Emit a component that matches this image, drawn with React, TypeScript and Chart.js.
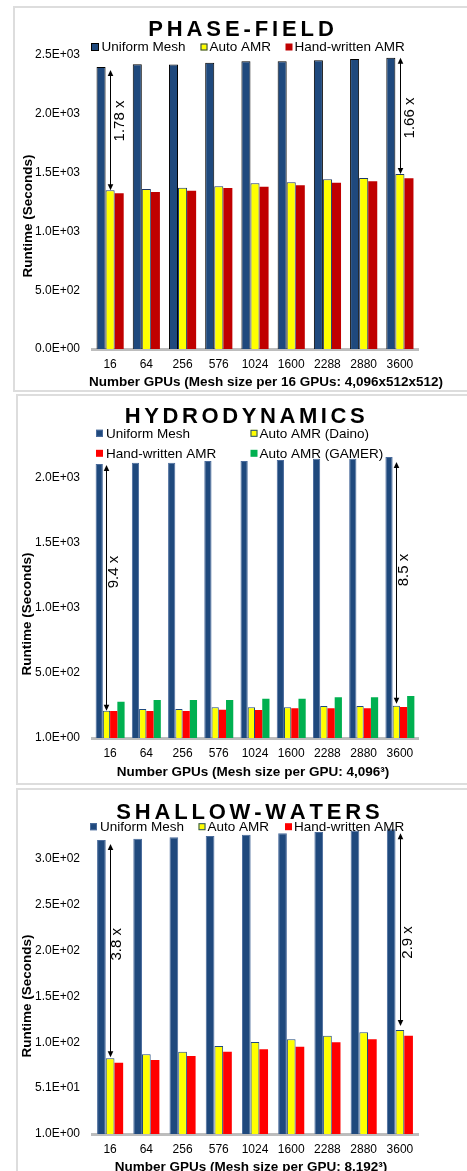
import React, { useEffect, useRef } from 'react';
import { Chart, registerables } from 'chart.js';

Chart.register(...registerables);

const FONT = "'Liberation Sans', Arial, Helvetica, sans-serif";

// ---------- data ----------
const gpuLabels = ['16', '64', '256', '576', '1024', '1600', '2288', '2880', '3600'];

const phaseUniform = [2398, 2421, 2419, 2435, 2447, 2447, 2455, 2466, 2477];
const phaseAuto = [1349, 1360, 1372, 1383, 1409, 1417, 1443, 1454, 1488];
const phaseHand = [1324, 1335, 1346, 1369, 1380, 1392, 1414, 1426, 1451];
const phaseTicks = [0, 500, 1000, 1500, 2000, 2500];

const hydroUniform = [2109, 2119, 2119, 2132, 2132, 2140, 2150, 2150, 2163];
const hydroDaino = [211, 224, 224, 237, 237, 237, 247, 247, 250];
const hydroHand = [209, 209, 209, 219, 216, 229, 229, 229, 239];
const hydroGamer = [280, 293, 293, 293, 303, 303, 314, 314, 324];
const hydroTicks = [1, 501, 1001, 1501, 2001];

const shallowUniform = [321.7, 323.0, 324.7, 326.0, 327.5, 329.0, 330.4, 331.9, 333.4];
const shallowAuto = [83.6, 88.0, 90.8, 97.0, 101.4, 104.3, 108.3, 111.9, 114.5];
const shallowHand = [78.8, 81.7, 86.1, 90.8, 93.4, 96.2, 101.0, 104.3, 108.2];
const shallowTicks = [1, 51, 101, 151, 201, 251, 301];

const phaseSpeedups = ['1.78 x', '1.66 x'];
const hydroSpeedups = ['9.4 x', '8.5 x'];
const shallowSpeedups = ['3.8 x', '2.9 x'];

// ---------- helpers ----------
function fmtExp(v: number): string {
  const s = v.toExponential(1);
  const [m, e] = s.split('e');
  const sign = e[0] === '-' ? '-' : '+';
  const digits = e.replace(/^[+-]/, '').padStart(2, '0');
  return `${m}E${sign}${digits}`;
}

type DS = { label: string; data: number[]; bg: string; border?: string; bw?: number };
type LegendPos = { x: number; y: number; textX: number; size: number };
type Ann = { index: number; text: string; labelValue: number; dx: number; topGap: number; botGap: number };

type PanelCfg = {
  top: number;
  height: number;
  title: string;
  titleX: number;
  titleY: number;
  titleSpacing: number;
  plotTop: number;
  plotBottom: number;
  yMin: number;
  yMax: number;
  yTicks: number[];
  catPct: number;
  datasets: DS[];
  legend: LegendPos[];
  xTitle: string;
  xTitleX: number;
  xTitleY: number;
  yTitleX: number;
  yTitleY: number;
  annotations: Ann[];
};

const W = 467;
const PLOT_LEFT = 92;
const PLOT_RIGHT = 418;

const panels: PanelCfg[] = [
  {
    top: 0,
    height: 393,
    title: 'PHASE-FIELD',
    titleX: 241,
    titleY: 36,
    titleSpacing: 3.9,
    plotTop: 55,
    plotBottom: 349,
    yMin: 0,
    yMax: 2500,
    yTicks: phaseTicks,
    catPct: 0.75,
    datasets: [
      { label: 'Uniform Mesh', data: phaseUniform, bg: '#1F497D', border: '#000000', bw: 1 },
      { label: 'Auto AMR', data: phaseAuto, bg: '#FFFF00', border: '#1F3864', bw: 1 },
      { label: 'Hand-written AMR', data: phaseHand, bg: '#C00000' },
    ],
    legend: [
      { x: 91, y: 47, textX: 101.5, size: 8 },
      { x: 200.5, y: 47, textX: 209.5, size: 7 },
      { x: 285.5, y: 47, textX: 294.5, size: 7 },
    ],
    xTitle: 'Number GPUs (Mesh size per 16 GPUs: 4,096x512x512)',
    xTitleX: 266,
    xTitleY: 382.5,
    yTitleX: 28,
    yTitleY: 216,
    annotations: [
      { index: 0, text: phaseSpeedups[0], labelValue: 1939, dx: 9.5, topGap: 3, botGap: 0 },
      { index: 8, text: phaseSpeedups[1], labelValue: 1964, dx: 10, topGap: 0, botGap: 0 },
    ],
  },
  {
    top: 393,
    height: 393,
    title: 'HYDRODYNAMICS',
    titleX: 244.7,
    titleY: 30.3,
    titleSpacing: 3.6,
    plotTop: 52.5,
    plotBottom: 345,
    yMin: 1,
    yMax: 2251,
    yTicks: hydroTicks,
    catPct: 0.8,
    datasets: [
      { label: 'Uniform Mesh', data: hydroUniform, bg: '#1F497D', border: '#4A6B9B', bw: 1 },
      { label: 'Auto AMR (Daino)', data: hydroDaino, bg: '#FFFF00', border: '#1F497D', bw: 1 },
      { label: 'Hand-written AMR', data: hydroHand, bg: '#FF0000' },
      { label: 'Auto AMR (GAMER)', data: hydroGamer, bg: '#00B050' },
    ],
    legend: [
      { x: 96, y: 40.3, textX: 106, size: 7 },
      { x: 250.5, y: 40.3, textX: 259.5, size: 7 },
      { x: 96, y: 60.3, textX: 106, size: 7 },
      { x: 250.5, y: 60.3, textX: 259.5, size: 7 },
    ],
    xTitle: 'Number GPUs (Mesh size per GPU: 4,096\u00B3)',
    xTitleX: 253,
    xTitleY: 379.5,
    yTitleX: 27,
    yTitleY: 221,
    annotations: [
      { index: 0, text: hydroSpeedups[0], labelValue: 1278, dx: 7, topGap: 1, botGap: 0 },
      { index: 8, text: hydroSpeedups[1], labelValue: 1293, dx: 7.5, topGap: 5, botGap: -2 },
    ],
  },
  {
    top: 786,
    height: 385,
    title: 'SHALLOW-WATERS',
    titleX: 248,
    titleY: 33.3,
    titleSpacing: 3.8,
    plotTop: 36.3,
    plotBottom: 348,
    yMin: 1,
    yMax: 341,
    yTicks: shallowTicks,
    catPct: 0.72,
    datasets: [
      { label: 'Uniform Mesh', data: shallowUniform, bg: '#1F497D', border: '#4A6B9B', bw: 1 },
      { label: 'Auto AMR', data: shallowAuto, bg: '#FFFF00', border: '#1F497D', bw: 1 },
      { label: 'Hand-written AMR', data: shallowHand, bg: '#FF0000' },
    ],
    legend: [
      { x: 90, y: 40.7, textX: 100, size: 7 },
      { x: 198.5, y: 40.7, textX: 207.5, size: 7 },
      { x: 285, y: 40.7, textX: 294, size: 7 },
    ],
    xTitle: 'Number GPUs (Mesh size per GPU: 8,192\u00B3)',
    xTitleX: 251,
    xTitleY: 381,
    yTitleX: 27,
    yTitleY: 210,
    annotations: [
      { index: 0, text: shallowSpeedups[0], labelValue: 208, dx: 7, topGap: 4, botGap: -1 },
      { index: 8, text: shallowSpeedups[1], labelValue: 210, dx: 8, topGap: 4, botGap: -4 },
    ],
  },
];

function drawSpaced(ctx: CanvasRenderingContext2D, text: string, cx: number, baseline: number, spacing: number) {
  const chars = Array.from(text);
  const widths = chars.map((c) => ctx.measureText(c).width);
  const total = widths.reduce((a, b) => a + b, 0) + spacing * (chars.length - 1);
  let x = cx - total / 2;
  ctx.textAlign = 'left';
  ctx.textBaseline = 'alphabetic';
  chars.forEach((c, i) => {
    ctx.fillText(c, x, baseline);
    x += widths[i] + spacing;
  });
}

function drawArrow(ctx: CanvasRenderingContext2D, x: number, y1: number, y2: number) {
  const xx = Math.round(x) + 0.5;
  ctx.save();
  ctx.strokeStyle = '#000';
  ctx.fillStyle = '#000';
  ctx.lineWidth = 1;
  ctx.beginPath();
  ctx.moveTo(xx, y1 + 4);
  ctx.lineTo(xx, y2 - 4);
  ctx.stroke();
  ctx.beginPath();
  ctx.moveTo(xx, y1);
  ctx.lineTo(xx - 2.8, y1 + 6);
  ctx.lineTo(xx + 2.8, y1 + 6);
  ctx.closePath();
  ctx.fill();
  ctx.beginPath();
  ctx.moveTo(xx, y2);
  ctx.lineTo(xx - 2.8, y2 - 6);
  ctx.lineTo(xx + 2.8, y2 - 6);
  ctx.closePath();
  ctx.fill();
  ctx.restore();
}

function Panel({ cfg }: { cfg: PanelCfg }) {
  const ref = useRef<HTMLCanvasElement | null>(null);

  useEffect(() => {
    const canvas = ref.current;
    if (!canvas) return;

    const overlay = {
      id: 'overlay',
      afterDatasetsDraw(chart: any) {
        const ctx: CanvasRenderingContext2D = chart.ctx;
        const y = chart.scales.y;
        ctx.save();
        ctx.fillStyle = '#000';

        // title
        ctx.font = `bold 22px ${FONT}`;
        drawSpaced(ctx, cfg.title, cfg.titleX, cfg.titleY, cfg.titleSpacing);

        // legend
        ctx.font = `13.5px ${FONT}`;
        cfg.datasets.forEach((ds, i) => {
          const p = cfg.legend[i];
          const s = p.size;
          ctx.fillStyle = ds.bg;
          ctx.fillRect(p.x, p.y - s / 2, s, s);
          if (ds.border) {
            ctx.strokeStyle = ds.border;
            ctx.lineWidth = 1;
            ctx.strokeRect(p.x + 0.5, p.y - s / 2 + 0.5, s - 1, s - 1);
          }
          ctx.fillStyle = '#000';
          ctx.textAlign = 'left';
          ctx.textBaseline = 'middle';
          ctx.fillText(ds.label, p.textX, p.y + 0.5);
        });

        // x-axis title
        ctx.font = `bold 13.5px ${FONT}`;
        ctx.textAlign = 'center';
        ctx.textBaseline = 'middle';
        ctx.fillText(cfg.xTitle, cfg.xTitleX, cfg.xTitleY);

        // y-axis title
        ctx.save();
        ctx.translate(cfg.yTitleX, cfg.yTitleY);
        ctx.rotate(-Math.PI / 2);
        ctx.fillText('Runtime (Seconds)', 0, 0);
        ctx.restore();

        // speed-up arrows
        const uni = cfg.datasets[0].data;
        const auto = cfg.datasets[1].data;
        const meta = chart.getDatasetMeta(1);
        cfg.annotations.forEach((a) => {
          const bar = meta.data[a.index];
          const x = bar.x;
          const y1 = y.getPixelForValue(uni[a.index]) + a.topGap;
          const y2 = y.getPixelForValue(auto[a.index]) + a.botGap;
          drawArrow(ctx, x, y1, y2);
          ctx.save();
          ctx.fillStyle = '#000';
          ctx.font = `15px ${FONT}`;
          ctx.translate(x + a.dx, y.getPixelForValue(a.labelValue));
          ctx.rotate(-Math.PI / 2);
          ctx.textAlign = 'center';
          ctx.textBaseline = 'middle';
          ctx.fillText(a.text, 0, 0);
          ctx.restore();
        });

        ctx.restore();
      },
    };

    const chart = new Chart(canvas, {
      type: 'bar',
      data: {
        labels: gpuLabels,
        datasets: cfg.datasets.map((d) => ({
          label: d.label,
          data: d.data,
          backgroundColor: d.bg,
          borderColor: d.border || d.bg,
          borderWidth: d.bw || 0,
          categoryPercentage: cfg.catPct,
          barPercentage: 1,
        })),
      },
      options: {
        responsive: false,
        maintainAspectRatio: false,
        animation: false,
        devicePixelRatio: 1,
        layout: {
          padding: { left: 0, right: W - PLOT_RIGHT, top: cfg.plotTop, bottom: 0 },
        },
        plugins: {
          legend: { display: false },
          title: { display: false },
          tooltip: { enabled: false },
        },
        scales: {
          x: {
            type: 'category',
            grid: { display: false, drawTicks: false },
            border: { display: true, color: '#BDBDBD', width: 3 },
            ticks: {
              padding: 8,
              color: '#000',
              font: { family: FONT, size: 12 },
              maxRotation: 0,
              autoSkip: false,
            },
            afterFit: (scale: any) => {
              scale.height = cfg.height - cfg.plotBottom;
            },
          },
          y: {
            type: 'linear',
            min: cfg.yMin,
            max: cfg.yMax,
            grid: { display: false, drawTicks: false },
            border: { display: false },
            ticks: {
              padding: 12,
              color: '#000',
              font: { family: FONT, size: 12 },
              callback: (v: any) => fmtExp(Number(v)),
            },
            afterBuildTicks: (scale: any) => {
              scale.ticks = cfg.yTicks.map((v) => ({ value: v }));
            },
            afterFit: (scale: any) => {
              scale.width = PLOT_LEFT;
            },
          },
        },
      },
      plugins: [overlay],
    } as any);

    return () => chart.destroy();
  }, [cfg]);

  return (
    <canvas
      ref={ref}
      width={W}
      height={cfg.height}
      style={{ position: 'absolute', left: 0, top: cfg.top, width: W, height: cfg.height }}
    />
  );
}

const frames = [
  { left: 13, top: 6, height: 386 },
  { left: 16, top: 394, height: 391 },
  { left: 16, top: 788, height: 420 },
];

export default function App() {
  return (
    <div
      style={{
        position: 'fixed',
        left: 0,
        top: 0,
        width: W,
        height: 1171,
        overflow: 'hidden',
        background: '#fff',
      }}
    >
      {frames.map((f, i) => (
        <div
          key={i}
          style={{
            position: 'absolute',
            left: f.left,
            top: f.top,
            width: 480,
            height: f.height,
            border: '2px solid #DDDDDD',
            boxSizing: 'border-box',
          }}
        />
      ))}
      {panels.map((p, i) => (
        <Panel key={i} cfg={p} />
      ))}
    </div>
  );
}
